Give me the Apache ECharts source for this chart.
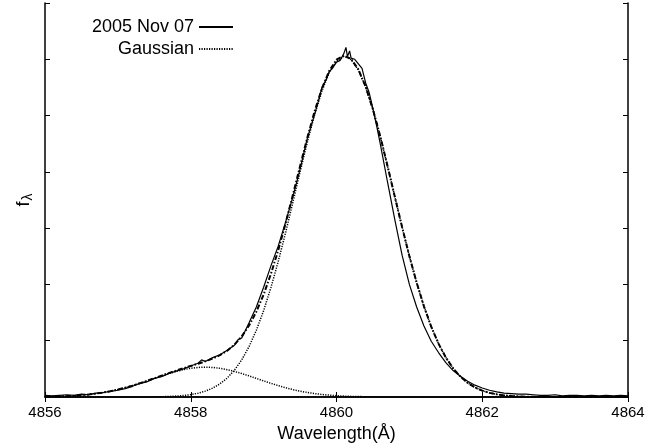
<!DOCTYPE html>
<html>
<head>
<meta charset="utf-8">
<script src="https://cdn.jsdelivr.net/npm/echarts@6/dist/echarts.min.js"></script>
<style>html,body{margin:0;padding:0;background:#fff}#c{width:660px;height:443px}</style>
</head>
<body>
<div id="c"></div>
<script>
// Wavelength grid (Å) for the model curves
const wavelength = [4856.0,4856.1,4856.2,4856.3,4856.4,4856.5,4856.6,4856.7,4856.8,4856.9,
4857.0,4857.1,4857.2,4857.3,4857.4,4857.5,4857.6,4857.7,4857.8,4857.9,
4858.0,4858.1,4858.2,4858.3,4858.4,4858.5,4858.6,4858.7,4858.8,4858.9,
4859.0,4859.1,4859.2,4859.3,4859.4,4859.5,4859.6,4859.7,4859.8,4859.9,
4860.0,4860.1,4860.2,4860.3,4860.4,4860.5,4860.6,4860.7,4860.8,4860.9,
4861.0,4861.1,4861.2,4861.3,4861.4,4861.5,4861.6,4861.7,4861.8,4861.9,
4862.0,4862.1,4862.2,4862.3,4862.4,4862.5,4862.6,4862.7,4862.8,4862.9,
4863.0,4863.1,4863.2,4863.3,4863.4,4863.5,4863.6,4863.7,4863.8,4863.9,4864.0];

// Main Gaussian component
const gaussMain = [0,0,0,0,0,0,0,0,0,0,
0,0,0,0,0.001,0.003,0.005,0.009,0.016,0.026,
0.042,0.067,0.104,0.157,0.233,0.337,0.477,0.661,0.895,1.185,
1.534,1.943,2.405,2.913,3.451,3.997,4.528,5.017,5.436,5.760,
5.969,6.050,5.996,5.812,5.509,5.107,4.631,4.105,3.560,3.019,
2.503,2.031,1.611,1.249,0.948,0.703,0.510,0.362,0.251,0.170,
0.113,0.073,0.047,0.029,0.018,0.010,0.006,0.003,0.002,0.001,
0,0,0,0,0,0,0,0,0,0,0];

// Weak blue Gaussian component
const gaussWeak = [0.005,0.008,0.011,0.016,0.023,0.033,0.045,0.061,0.080,0.104,
0.132,0.165,0.202,0.243,0.286,0.330,0.375,0.416,0.454,0.486,
0.510,0.525,0.530,0.525,0.510,0.486,0.454,0.416,0.375,0.330,
0.286,0.243,0.202,0.165,0.132,0.104,0.080,0.061,0.045,0.033,
0.023,0.016,0.011,0.008,0.005,0.003,0.002,0.001,0,0,
0,0,0,0,0,0,0,0,0,0,
0,0,0,0,0,0,0,0,0,0,
0,0,0,0,0,0,0,0,0,0,0];

// Sum of the two Gaussians (fit)
const fitSum = [0.005,0.008,0.011,0.016,0.023,0.033,0.045,0.061,0.080,0.104,
0.132,0.165,0.202,0.243,0.287,0.333,0.380,0.425,0.470,0.512,
0.552,0.592,0.634,0.682,0.743,0.823,0.931,1.077,1.270,1.515,
1.820,2.186,2.607,3.078,3.583,4.101,4.608,5.078,5.481,5.793,
5.992,6.066,6.007,5.820,5.514,5.110,4.633,4.106,3.560,3.019,
2.503,2.031,1.611,1.249,0.948,0.703,0.510,0.362,0.251,0.170,
0.113,0.073,0.047,0.029,0.018,0.010,0.006,0.003,0.002,0.001,
0,0,0,0,0,0,0,0,0,0,0];

// Observed spectrum 2005 Nov 07
const obsWavelength = [4856.0,4856.1,4856.2,4856.3,4856.4,4856.5,4856.6,4856.7,4856.8,4856.9,
4857.0,4857.1,4857.2,4857.3,4857.4,4857.5,4857.6,4857.7,4857.8,4857.9,
4858.0,4858.1,4858.15,4858.2,4858.3,4858.4,4858.5,4858.6,4858.65,4858.7,4858.8,4858.9,
4859.0,4859.1,4859.2,4859.3,4859.4,4859.5,4859.6,4859.7,4859.75,4859.8,4859.85,4859.9,4859.95,
4860.0,4860.05,4860.1,4860.13,4860.15,4860.18,4860.2,4860.25,4860.3,4860.35,4860.4,4860.45,4860.5,4860.55,4860.6,
4860.7,4860.8,4860.9,4861.0,4861.1,4861.2,4861.3,4861.4,4861.5,4861.6,4861.7,4861.8,4861.9,
4862.0,4862.1,4862.2,4862.3,4862.4,4862.5,4862.6,4862.7,4862.8,4862.9,
4863.0,4863.1,4863.2,4863.3,4863.4,4863.5,4863.6,4863.7,4863.8,4863.9,4864.0];
const obsFlux = [0.03,0.02,0.03,0.04,0.03,0.05,0.04,0.07,0.08,0.10,
0.12,0.15,0.19,0.24,0.27,0.33,0.36,0.42,0.46,0.50,
0.55,0.60,0.66,0.63,0.70,0.75,0.83,0.92,1.02,1.05,1.32,1.60,
1.95,2.33,2.68,3.10,3.55,4.05,4.60,5.02,5.25,5.50,5.62,5.78,5.85,
5.95,5.98,6.10,6.21,6.05,6.15,6.02,6.00,5.92,5.84,5.58,5.40,5.12,4.82,4.50,
3.82,3.15,2.52,2.00,1.60,1.26,0.99,0.79,0.61,0.47,0.37,0.28,0.21,
0.16,0.12,0.09,0.07,0.06,0.05,0.05,0.04,0.03,0.03,
0.04,0.02,0.03,0.03,0.02,0.03,0.02,0.03,0.02,0.03,0.02];

const xTicks = [4856, 4858, 4860, 4862, 4864];

const pairs = (xs, ys) => xs.map((x, i) => [x, ys[i]]);

const chart = echarts.init(document.getElementById('c'), null, {renderer: 'canvas'});
const FONT = '"Liberation Sans", Arial, sans-serif';
const axisLine = {show: true, lineStyle: {color: '#000', width: 1.5}};
const tick = {show: true, inside: true, length: 5, lineStyle: {color: '#000', width: 1}};
const legendBase = {
  right: 426, orient: 'vertical', align: 'right',
  itemWidth: 34, itemHeight: 12, padding: 0,
  itemStyle: {color: 'transparent', borderColor: 'transparent', borderWidth: 0, opacity: 0},
  textStyle: {fontFamily: FONT, fontSize: 18, color: '#000', lineHeight: 18}
};

chart.setOption({
  animation: false,
  backgroundColor: '#fff',
  color: ['#000'],
  grid: {left: 45, right: 32, top: 3, bottom: 46, containLabel: false, outerBoundsMode: 'none'},
  legend: [
    Object.assign({}, legendBase, {data: ['2005 Nov 07'], top: 18}),
    Object.assign({}, legendBase, {data: ['Gaussian'], top: 40})
  ],
  xAxis: [
    {type: 'value', min: 4856, max: 4864, interval: 2, position: 'bottom',
     name: 'Wavelength(Å)', nameLocation: 'middle', nameGap: 20,
     nameTextStyle: {fontFamily: FONT, fontSize: 18, color: '#000'},
     axisLine: axisLine, axisTick: tick, splitLine: {show: false},
     axisLabel: {fontFamily: FONT, fontSize: 15, color: '#000', margin: 8,
       formatter: v => xTicks.includes(v) ? String(v) : ''}},
    {type: 'value', min: 4856, max: 4864, interval: 2, position: 'top',
     axisLine: axisLine, axisTick: tick, axisLabel: {show: false}, splitLine: {show: false}}
  ],
  yAxis: [
    {type: 'value', min: 0, max: 7, interval: 1, position: 'left',
     name: '{f|f}{s|λ}', nameLocation: 'middle', nameGap: 10, nameRotate: 90,
     nameTextStyle: {rich: {
       f: {fontFamily: FONT, fontSize: 18, color: '#000'},
       s: {fontFamily: FONT, fontSize: 14, color: '#000', padding: [7, 0, 0, 1]}}},
     axisLine: axisLine, axisTick: tick, axisLabel: {show: false}, splitLine: {show: false}},
    {type: 'value', min: 0, max: 7, interval: 1, position: 'right',
     axisLine: axisLine, axisTick: tick, axisLabel: {show: false}, splitLine: {show: false}}
  ],
  series: [
    {name: 'Gaussian', type: 'line', data: pairs(wavelength, gaussWeak), symbol: 'none',
     itemStyle: {color: '#000'},
     lineStyle: {color: '#000', width: 1.5, type: [1.2, 1.3]}, z: 2},
    {name: 'Gaussian', type: 'line', data: pairs(wavelength, gaussMain), symbol: 'none',
     itemStyle: {color: '#000'},
     lineStyle: {color: '#000', width: 1.5, type: [1.2, 1.3]}, z: 2},
    {name: 'Fit', type: 'line', data: pairs(wavelength, fitSum), symbol: 'none',
     itemStyle: {color: '#000'},
     lineStyle: {color: '#000', width: 2, type: [5, 2, 1.5, 2]}, z: 3},
    {name: '2005 Nov 07', type: 'line', data: pairs(obsWavelength, obsFlux), symbol: 'none',
     itemStyle: {color: '#000'},
     lineStyle: {color: '#000', width: 1.2, type: 'solid'}, z: 4}
  ]
});
</script>
</body>
</html>
